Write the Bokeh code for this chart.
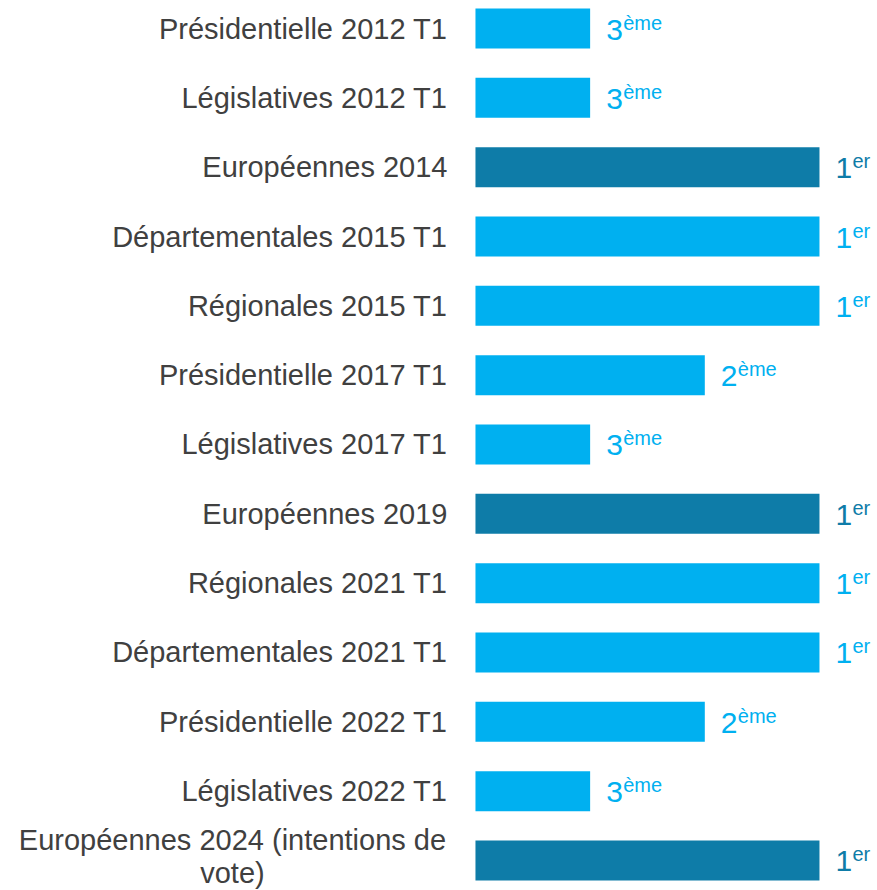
from bokeh.plotting import figure
from bokeh.models import ColumnDataSource, Range1d
from bokeh.core.properties import value
from bokeh.embed import file_html
from bokeh.resources import INLINE

categories = [
    "Présidentielle 2012 T1",
    "Législatives 2012 T1",
    "Européennes 2014",
    "Départementales 2015 T1",
    "Régionales 2015 T1",
    "Présidentielle 2017 T1",
    "Législatives 2017 T1",
    "Européennes 2019",
    "Régionales 2021 T1",
    "Départementales 2021 T1",
    "Présidentielle 2022 T1",
    "Législatives 2022 T1",
    "Européennes 2024 (intentions de\nvote)",
]
scores = [1, 1, 3, 3, 3, 2, 1, 3, 3, 3, 2, 1, 3]
rank_num = ["3", "3", "1", "1", "1", "2", "3", "1", "1", "1", "2", "3", "1"]
rank_sup = ["ème", "ème", "er", "er", "er", "ème", "ème", "er", "er", "er", "ème", "ème", "er"]
european = [False, False, True, False, False, False, False, True, False, False, False, False, True]

LIGHT = "#00B0F0"
DARK = "#0E7CA8"
FONT = "Liberation Sans"

idx = list(range(len(categories)))
colors = [DARK if e else LIGHT for e in european]

single = [i for i in idx if "\n" not in categories[i]]
multi = [i for i in idx if "\n" in categories[i]]

src = ColumnDataSource(dict(y=idx, v=scores, c=colors, num=rank_num, sup=rank_sup))
lab1 = ColumnDataSource(dict(y=[idx[i] for i in single], t=[categories[i] for i in single], x=[0] * len(single)))
lab2 = ColumnDataSource(dict(y=[idx[i] for i in multi], t=[categories[i] for i in multi], x=[0] * len(multi)))

p = figure(width=877, height=890, output_backend="svg", toolbar_location=None,
           x_range=Range1d(-4.142, 3.506), y_range=Range1d(12.433, -0.404),
           min_border=0, min_border_left=0, min_border_right=0, min_border_top=0, min_border_bottom=0)
p.xaxis.visible = False
p.yaxis.visible = False
p.grid.visible = False
p.outline_line_color = None
p.background_fill_color = "white"
p.border_fill_color = "white"

p.hbar(y="y", left=0, right="v", height=0.577, fill_color="c", line_color=None, source=src)

p.text(x="v", y="y", text="num", source=src, text_color="c",
       text_font=value(FONT), text_font_size="30px", text_baseline="alphabetic",
       text_align="left", x_offset=16, y_offset=1)
p.text(x="v", y="y", text="sup", source=src, text_color="c",
       text_font=value(FONT), text_font_size="20px", text_baseline="alphabetic",
       text_align="left", x_offset=33, y_offset=-6)

p.text(x="x", y="y", text="t", source=lab1, text_color="#404040",
       text_font=value(FONT), text_font_size="29px", text_baseline="middle",
       text_align="right", x_offset=-28, y_offset=0)
p.text(x="x", y="y", text="t", source=lab2, text_color="#404040",
       text_font=value(FONT), text_font_size="29px", text_baseline="middle",
       text_align="center", x_offset=-243, y_offset=-4, text_line_height=1.05)

open("out.html", "w").write(file_html(p, INLINE))
